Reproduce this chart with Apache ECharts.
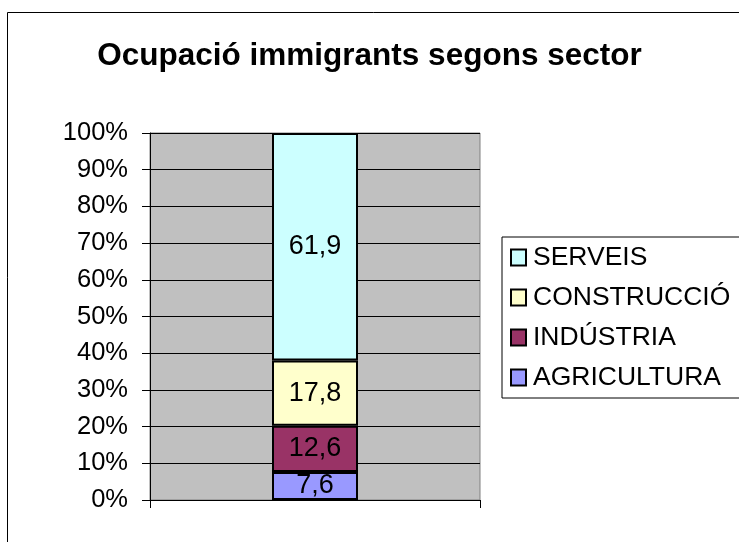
<!DOCTYPE html>
<html>
<head>
<meta charset="utf-8">
<script src="https://cdn.jsdelivr.net/npm/echarts@6/dist/echarts.min.js"></script>
<style>
  html, body { margin: 0; padding: 0; background: #fff; }
  #chart { width: 739px; height: 542px; }
</style>
</head>
<body>
<div id="chart"></div>
<script>
// sectors, bottom to top of the stack
let sectors = ['AGRICULTURA', 'INDÚSTRIA', 'CONSTRUCCIÓ', 'SERVEIS'];
let values = [7.6, 12.6, 17.8, 61.9];
let colors = ['#9999FF', '#993366', '#FFFFCC', '#CCFFFF'];
let category = [''];
let yTicks = [0, 10, 20, 30, 40, 50, 60, 70, 80, 90, 100];

// percentage stack: scale so the column reaches 100%
let total = values.reduce((a, b) => a + b, 0);

let FONT = 'Liberation Sans, Arial, sans-serif';

let series = sectors.map((name, i) => ({
  name: name,
  type: 'bar',
  stack: 'total',
  barWidth: 86,
  data: [values[i] / total * 100],
  itemStyle: { color: colors[i], borderColor: '#000', borderWidth: 2 },
  label: {
    show: true,
    position: 'inside',
    color: '#000',
    fontFamily: FONT,
    fontSize: 27,
    formatter: () => String(values[i]).replace('.', ',')
  },
  emphasis: { disabled: true }
}));

let myChart = echarts.init(document.getElementById('chart'));

let option = {
  animation: false,
  backgroundColor: '#fff',
  title: {
    text: 'Ocupació immigrants segons sector',
    left: 'center',
    top: 35,
    textStyle: {
      fontFamily: FONT,
      fontSize: 31.5,
      fontWeight: 'bold',
      color: '#000'
    }
  },
  legend: {
    data: sectors.slice().reverse(),
    orient: 'vertical',
    left: 502,
    top: 237,
    padding: [7, 40, 7, 8],
    itemGap: 13,
    itemWidth: 15,
    itemHeight: 16,
    icon: 'rect',
    borderColor: '#000',
    borderWidth: 1,
    textStyle: {
      fontFamily: FONT,
      fontSize: 26.5,
      color: '#000',
      padding: [0, 0, 0, 2]
    }
  },
  grid: {
    left: 150,
    right: 259,
    top: 133,
    bottom: 42,
    show: true,
    backgroundColor: '#C0C0C0',
    borderColor: '#808080',
    borderWidth: 1
  },
  xAxis: {
    type: 'category',
    data: category,
    axisLine: { lineStyle: { color: '#000', width: 1 } },
    axisTick: { show: true, length: 8, lineStyle: { color: '#000' } },
    axisLabel: { show: false }
  },
  yAxis: {
    type: 'value',
    min: yTicks[0],
    max: yTicks[yTicks.length - 1],
    interval: 10,
    axisLine: { show: true, lineStyle: { color: '#000', width: 1 } },
    axisTick: { show: true, length: 8, lineStyle: { color: '#000' } },
    splitLine: { lineStyle: { color: '#000', width: 1 } },
    axisLabel: {
      margin: 22,
      color: '#000',
      fontFamily: FONT,
      fontSize: 25.5,
      formatter: '{value}%'
    }
  },
  graphic: [{
    type: 'rect',
    shape: { x: 7.5, y: 12.5, width: 760, height: 560 },
    style: { fill: 'none', stroke: '#000', lineWidth: 1 },
    silent: true
  }],
  series: series
};

myChart.setOption(option);
</script>
</body>
</html>
